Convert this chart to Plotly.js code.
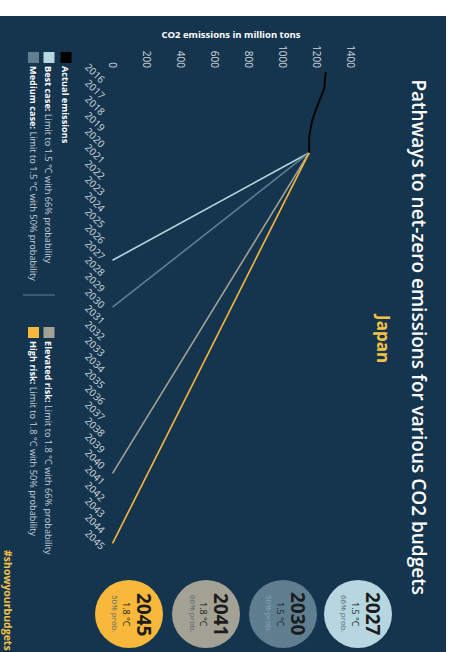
<!DOCTYPE html>
<html><head><meta charset="utf-8">
<script src="https://cdn.plot.ly/plotly-3.0.1.min.js"></script>
<style>
html,body{margin:0;padding:0;background:#fff;width:454px;height:652px;overflow:hidden;}
#wrap{position:absolute;left:0;top:16px;width:636px;height:446px;transform-origin:0 0;transform:translate(446px,0) rotate(90deg);}
#chart{width:636px;height:446px;}
</style></head>
<body><div id="wrap"><div id="chart"></div></div>
<script>
// ---- data ----
const actualDates = ['2016-01-01', '2017-01-01', '2018-01-01', '2019-01-01', '2020-01-01', '2021-01-01'];
const actualValues = [1255, 1247, 1209, 1175, 1158, 1158];
const bestDates = ['2021-01-01', '2027-09-10'];
const bestValues = [1158, 0];
const mediumDates = ['2021-01-01', '2030-08-10'];
const mediumValues = [1158, 0];
const elevatedDates = ['2021-01-01', '2040-12-10'];
const elevatedValues = [1158, 0];
const highDates = ['2021-01-01', '2045-04-20'];
const highValues = [1158, 0];
const yTicks = [0, 200, 400, 600, 800, 1000, 1200, 1400];
const circleYears = ['2027', '2030', '2041', '2045'];
const circleTemps = ['1.5 °C', '1.5 °C', '1.8 °C', '1.8 °C'];
const circleProbs = ['66% prob.', '50% prob.', '66% prob.', '50% prob.'];

// ---- styles ----
const BG = '#15354f';
const C_ACT = '#000000', C_BEST = '#b6d6e0', C_MED = '#5f7f90', C_ELEV = '#a3a294', C_HIGH = '#f7b83c';
const circleColors = [C_BEST, C_MED, C_ELEV, C_HIGH];
const W = 636, H = 446, L = 53, R = 105, T = 94, B = 110;
const PW = W - L - R, PH = H - T - B;
const px = xo => (xo - L) / PW;
const py = yo => (H - B - yo) / PH;
const FONT = 'Open Sans, Noto Sans, sans-serif';

const traces = [
  {x: bestDates, y: bestValues, mode: 'lines', line: {color: C_BEST, width: 1.6}, hoverinfo: 'skip'},
  {x: mediumDates, y: mediumValues, mode: 'lines', line: {color: C_MED, width: 1.6}, hoverinfo: 'skip'},
  {x: elevatedDates, y: elevatedValues, mode: 'lines', line: {color: C_ELEV, width: 1.6}, hoverinfo: 'skip'},
  {x: highDates, y: highValues, mode: 'lines', line: {color: C_HIGH, width: 1.6}, hoverinfo: 'skip'},
  {x: actualDates, y: actualValues, mode: 'lines', line: {color: C_ACT, width: 1.8}, hoverinfo: 'skip'}
];

const shapes = [], annotations = [];
// legend
function legItem(xo, yo, color, html) {
  shapes.push({type: 'rect', xref: 'paper', yref: 'paper', x0: px(xo), x1: px(xo + 11), y0: py(yo - 5.5), y1: py(yo + 5.5), fillcolor: color, line: {width: 0}});
  annotations.push({xref: 'paper', yref: 'paper', x: px(xo + 12), y: py(yo), xanchor: 'left', yanchor: 'middle', showarrow: false, text: html, font: {family: FONT, size: 9.2, color: '#c9d2da'}});
}
legItem(36, 380, C_ACT, '<b style="color:#ffffff">Actual emissions</b>');
legItem(36, 397, C_BEST, '<b style="color:#ffffff">Best case:</b> Limit to 1.5 °C with 66% probability');
legItem(36, 412.5, C_MED, '<b style="color:#ffffff">Medium case:</b> Limit to 1.5 °C with 50% probability');
legItem(311, 397, C_ELEV, '<b style="color:#ffffff">Elevated risk:</b> Limit to 1.8 °C with 66% probability');
legItem(311, 412.5, C_HIGH, '<b style="color:#ffffff">High risk:</b> Limit to 1.8 °C with 50% probability');
shapes.push({type: 'line', xref: 'paper', yref: 'paper', x0: px(279), x1: px(279), y0: py(391), y1: py(423), line: {color: 'rgba(200,215,225,0.3)', width: 1.5}});

// circles
const cx = 598, cys = [88, 163, 240, 317], rad = 34;
circleYears.forEach((yr, i) => {
  const cy = cys[i];
  shapes.push({type: 'circle', xref: 'paper', yref: 'paper', x0: px(cx - rad), x1: px(cx + rad), y0: py(cy + rad), y1: py(cy - rad), fillcolor: circleColors[i], line: {width: 0}});
  annotations.push({xref: 'paper', yref: 'paper', x: px(cx), y: py(cy - 15), showarrow: false, xanchor: 'center', yanchor: 'middle', text: '<b>' + yr + '</b>', font: {family: FONT, size: 19, color: '#1c1c1c'}});
  annotations.push({xref: 'paper', yref: 'paper', x: px(cx), y: py(cy + 2), showarrow: false, xanchor: 'center', yanchor: 'middle', text: circleTemps[i], font: {family: FONT, size: 9, color: '#1c1c1c'}});
  annotations.push({xref: 'paper', yref: 'paper', x: px(cx), y: py(cy + 13), showarrow: false, xanchor: 'center', yanchor: 'middle', text: circleProbs[i], font: {family: FONT, size: 8, color: i === 1 ? '#8fa5b2' : '#5a6670'}});
});

annotations.push({xref: 'paper', yref: 'paper', x: px(322), y: py(62), showarrow: false, xanchor: 'center', yanchor: 'middle', text: '<b>Japan</b>', font: {family: FONT, size: 17, color: '#f5c243'}});
annotations.push({xref: 'paper', yref: 'paper', x: px(532), y: py(438), showarrow: false, xanchor: 'left', yanchor: 'middle', text: '<b>#showyourbudgets</b>', font: {family: FONT, size: 10.5, color: '#f5c243'}});

const layout = {
  width: W, height: H,
  paper_bgcolor: BG, plot_bgcolor: BG,
  margin: {l: L, r: R, t: T, b: B},
  showlegend: false,
  title: {text: 'Pathways to net-zero emissions for various CO2 budgets', xref: 'container', x: 0.505, xanchor: 'center', yref: 'container', y: 1 - 27 / H, yanchor: 'middle', font: {family: FONT, size: 19, weight: 600, color: '#ffffff'}},
  xaxis: {type: 'date', range: ['2015-10-19', '2045-07-10'], tick0: '2016-01-01', dtick: 'M12', tickformat: '%Y', ticklabelmode: 'period', tickangle: -45, showgrid: false, zeroline: false, showline: false, ticks: '', tickfont: {family: FONT, size: 10, color: '#d0d7de'}},
  yaxis: {range: [-15, 1410], tickvals: yTicks, showgrid: false, zeroline: false, showline: false, ticks: '', tickfont: {family: FONT, size: 10, color: '#d0d7de'},
    title: {text: '<b>CO2 emissions in million tons</b>', standoff: 4, font: {family: FONT, size: 9.5, color: '#ffffff'}}},
  shapes: shapes,
  annotations: annotations
};
Plotly.newPlot('chart', traces, layout, {staticPlot: true, displayModeBar: false});
</script>
</body></html>
